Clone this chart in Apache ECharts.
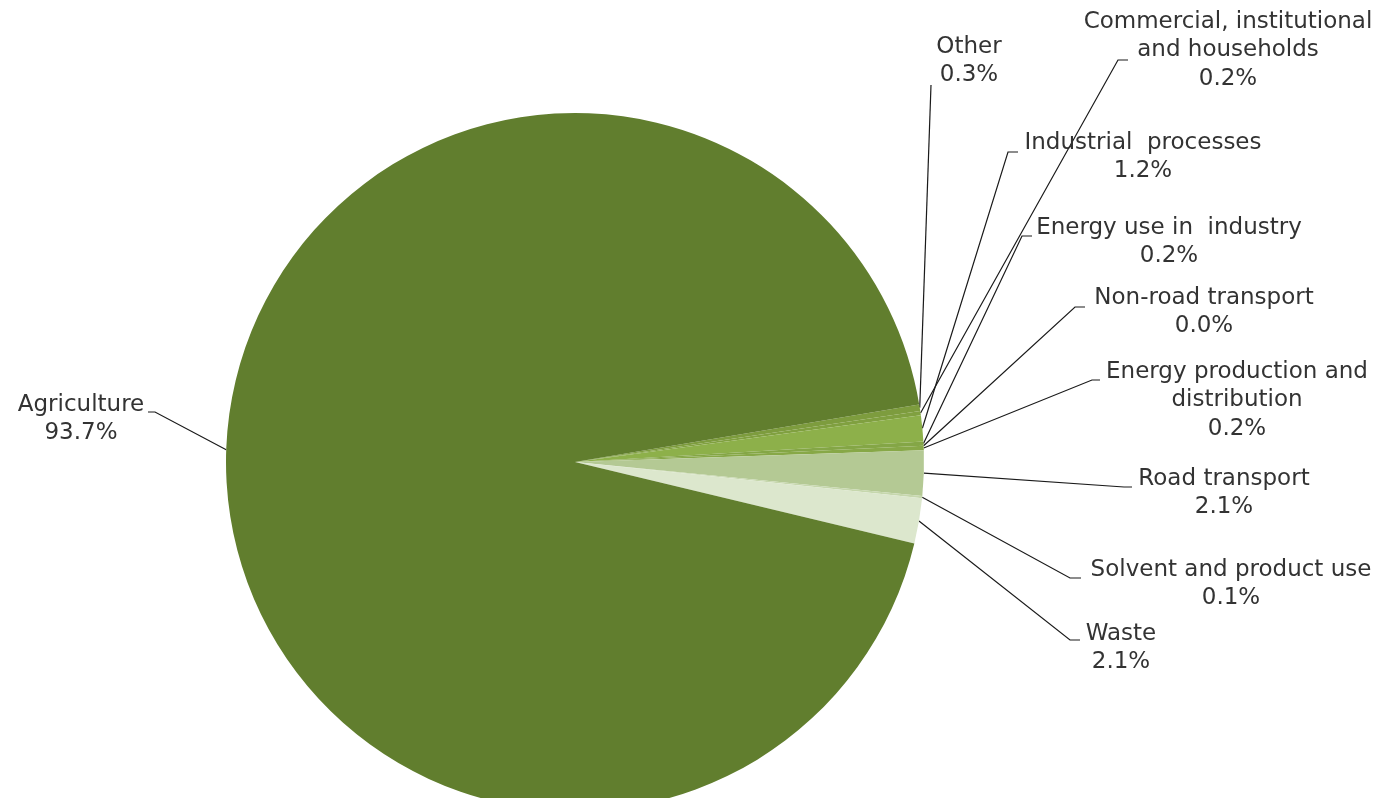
<!DOCTYPE html>
<html>
<head>
<meta charset="utf-8">
<script src="https://cdn.jsdelivr.net/npm/echarts@6/dist/echarts.min.js"></script>
<style>
html,body{margin:0;padding:0;background:#fff;}
#chart{width:1388px;height:798px;}
</style>
</head>
<body>
<div id="chart"></div>
<script>
// ---- data ----
var categories = ['Other', 'Commercial, institutional and households', 'Industrial processes',
  'Energy use in industry', 'Non-road transport', 'Energy production and distribution',
  'Road transport', 'Solvent and product use', 'Waste', 'Agriculture'];
var shares = [0.3, 0.2, 1.2, 0.2, 0.0, 0.2, 2.1, 0.1, 2.1, 93.7];

// ---- styles / layout ----
var sliceColors = ['#7d9c3e', '#80a040', '#8db04a', '#84a646', '#9cbb60', '#87a847',
  '#b4c994', '#c6d7ad', '#dce7cd', '#617e2e'];
var labelText = {
  'Commercial, institutional and households': 'Commercial, institutional\nand households',
  'Energy production and distribution': 'Energy production and\ndistribution',
  'Industrial processes': 'Industrial  processes',
  'Energy use in industry': 'Energy use in  industry'
};
// label placement: cx = text-block centre x, cy = first line centre y, line = bend points
var labelPlace = [
  {cx: 969,  cy: 47,  line: [[931, 85]]},
  {cx: 1228, cy: 22,  line: [[1118, 60], [1128, 60]]},
  {cx: 1143, cy: 143, line: [[1008, 152], [1018, 152]]},
  {cx: 1169, cy: 228, line: [[1022, 236], [1032, 236]]},
  {cx: 1204, cy: 298, line: [[1075, 307], [1085, 307]]},
  {cx: 1237, cy: 372, line: [[1092, 380], [1100, 380]]},
  {cx: 1224, cy: 479, line: [[1124, 487], [1132, 487]]},
  {cx: 1231, cy: 570, line: [[1070, 578], [1081, 578]]},
  {cx: 1121, cy: 634, line: [[1070, 640], [1080, 640]]},
  {cx: 81,   cy: 405, line: [[155, 412], [148, 412]]}
];
var LINE_H = 28.5;

var chart = echarts.init(document.getElementById('chart'), null, {renderer: 'canvas'});
var seriesData = categories.map(function (c, i) {
  return {name: c, value: shares[i], itemStyle: {color: sliceColors[i]}};
});

chart.setOption({
  animation: false,
  backgroundColor: '#ffffff',
  series: [{
    type: 'pie',
    center: [575, 462],
    radius: 349,
    startAngle: 9.5,
    clockwise: true,
    avoidLabelOverlap: false,
    minShowLabelAngle: 0,
    data: seriesData,
    itemStyle: {borderWidth: 0},
    label: {
      show: true,
      position: 'outside',
      fontFamily: 'DejaVu Sans',
      fontSize: 23,
      lineHeight: LINE_H,
      color: '#333333',
      align: 'center',
      formatter: function (p) {
        var n = labelText[p.name] || p.name;
        return n + '\n' + p.value.toFixed(1) + '%';
      }
    },
    labelLine: {
      show: true,
      length: 5,
      length2: 5,
      smooth: false,
      lineStyle: {color: '#1a1a1a', width: 1.2}
    },
    labelLayout: function (params) {
      var pl = labelPlace[params.dataIndex];
      var start = params.labelLinePoints ? params.labelLinePoints[0] : pl.line[0];
      var pts = [start].concat(pl.line);
      return {
        x: pl.cx,
        y: pl.cy - LINE_H / 2,
        align: 'center',
        verticalAlign: 'top',
        labelLinePoints: pts
      };
    }
  }]
});
</script>
</body>
</html>
